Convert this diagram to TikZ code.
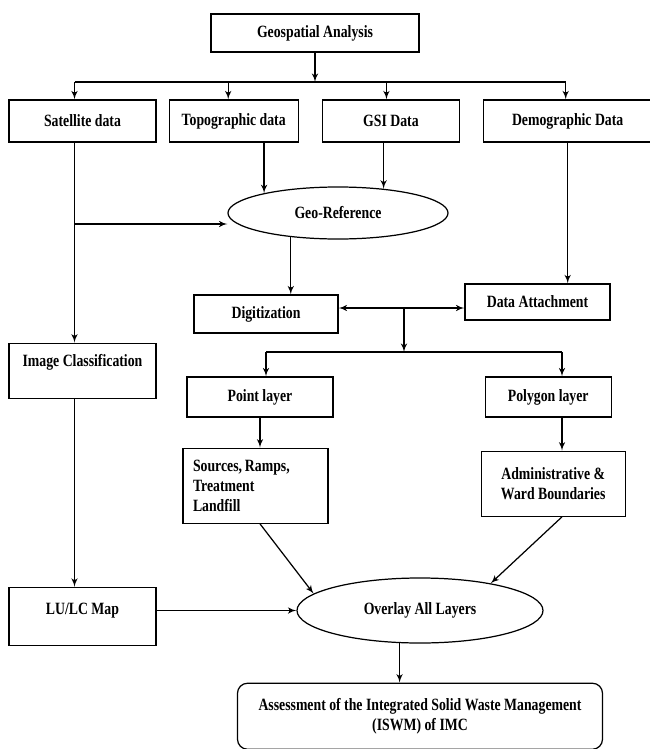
\documentclass[tikz,border=0pt]{standalone}
\usepackage{fontspec}
\setmainfont{Liberation Serif}[FakeStretch=0.8]
\usepackage{tikz}
\usetikzlibrary{shapes,arrows}
\usetikzlibrary{positioning}
\tikzset{>=latex', node distance=1cm, font=\fontsize{9.8}{11.4}\selectfont\bfseries}
\tikzstyle{block} = [draw, rectangle, line width=0.7pt, inner sep=0pt, minimum height=0.84cm, text centered, align=center]
\tikzstyle{oval} = [draw, ellipse, line width=0.7pt, inner sep=0pt]
\tikzstyle{final} = [block, rounded corners=0.2cm]
\tikzstyle{line} = [line width=0.7pt]

\begin{document}
\begin{tikzpicture}
		\useasboundingbox (0,0) rectangle (12.98,-14.98);

		\node [block, minimum width=4.16cm, minimum height=0.76cm] at (6.3,-0.66) (geo) {Geospatial Analysis};

		\node [block, minimum width=2.94cm] at (1.65,-2.42) (sat) {Satellite data};
		\node [block, minimum width=2.58cm, right=0.24cm of sat] (topo) {Topographic data};
		\node [block, minimum width=2.74cm, right=0.46cm of topo] (gsi) {GSI Data};
		\node [block, minimum width=3.36cm, right=0.46cm of gsi] (demo) {Demographic Data};

		\node [oval, minimum width=4.4cm, minimum height=1.04cm] at (6.76,-4.26) (georef) {Geo-Reference};
		\node [block, minimum width=2.88cm, minimum height=0.76cm] at (5.32,-6.28) (digit) {Digitization};
		\node [block, minimum width=2.9cm, minimum height=0.72cm] at (10.75,-6.04) (attach) {Data Attachment};

		\node [block, minimum width=2.94cm, minimum height=1.1cm, text height=0.24cm, text depth=0.42cm, below=4cm of sat] (imgcls) {Image Classification};
		\node [block, minimum width=2.94cm, minimum height=1.16cm, text height=0.24cm, text depth=0.32cm, below=3.76cm of imgcls] (lulc) {LU/LC Map};

		\node [block, minimum width=2.92cm, minimum height=0.8cm] at (5.2,-7.94) (point) {Point layer};
		\node [block, minimum width=2.52cm, minimum height=0.8cm, right=3.02cm of point] (poly) {Polygon layer};
		\node [block, minimum width=2.9cm, minimum height=1.5cm, inner xsep=0.2cm, text width=2.5cm, align=left, below=0.6cm of point, xshift=-0.09cm] (sources) {Sources,\,Ramps,\\Treatment\\Landfill};
		\node [block, minimum width=2.88cm, minimum height=1.3cm, below=0.66cm of poly, xshift=0.1cm] (admin) {Administrative \&\\Ward Boundaries};

		\node [oval, minimum width=4.92cm, minimum height=1.3cm] at (8.4,-12.21) (overlay) {Overlay All Layers};
		\node [final, minimum width=7.3cm, minimum height=1.32cm, below=0.78cm of overlay] (assess) {Assessment of the Integrated Solid Waste Management\\(ISWM) of IMC};

		\coordinate (bus) at (6.26,-1.64);
		\coordinate (satcol) at ([xshift=-0.16cm]sat.center);
		\coordinate (branch) at ([yshift=-2.06cm]satcol);
		\coordinate (join) at (8.08,-6.16);
		\coordinate (split) at (8.08,-7.04);
		\coordinate (lcol) at (5.32,-7.04);
		\coordinate (rcol) at (11.24,-7.04);

		\draw [line, ->] (geo.south) -- (geo.south |- bus);
		\draw [line] (satcol |- bus) -- ([xshift=-0.04cm]demo.north |- bus);
		\draw [line, ->] (satcol |- bus) -- (satcol |- sat.north);
		\draw [line, ->] ([xshift=-0.11cm]topo.north |- bus) -- ([xshift=-0.11cm]topo.north);
		\draw [line, ->] ([xshift=-0.09cm]gsi.north |- bus) -- ([xshift=-0.09cm]gsi.north);
		\draw [line, ->] ([xshift=-0.04cm]demo.north |- bus) -- ([xshift=-0.04cm]demo.north);

		\draw [line, ->] (topo.south -| georef.165) -- (georef.165);
		\draw [line, ->] (gsi.south -| georef.28) -- (georef.28);
		\draw [line, ->] (branch) -- (branch -| georef.west);
		\draw [line, ->] (satcol |- sat.south) -- (satcol |- imgcls.north);
		\draw [line, ->] (georef.207) -- (georef.207 |- digit.north);
		\draw [line, ->] (demo.south) -- (demo.south |- attach.north);

		\draw [line, <->] (digit.east |- join) -- (attach.west |- join);
		\draw [line, ->] (join) -- (split);
		\draw [line] (lcol) -- (rcol);
		\draw [line, ->] (lcol) -- (lcol |- point.north);
		\draw [line, ->] (rcol) -- (rcol |- poly.north);
		\draw [line, ->] (point.south) -- (point.south |- sources.north);
		\draw [line, ->] (rcol |- poly.south) -- (rcol |- admin.north);

		\draw [line, ->] (satcol |- imgcls.south) -- (satcol |- lulc.north);
		\draw [line, ->] (lulc.east |- overlay.west) -- (overlay.west);
		\draw [line, ->] (point.south |- sources.south) -- (overlay.171);
		\draw [line, ->] (rcol |- admin.south) -- (overlay.21);
		\draw [line, ->] (overlay.238) -- (overlay.238 |- assess.north);
	\end{tikzpicture}
\end{document}
